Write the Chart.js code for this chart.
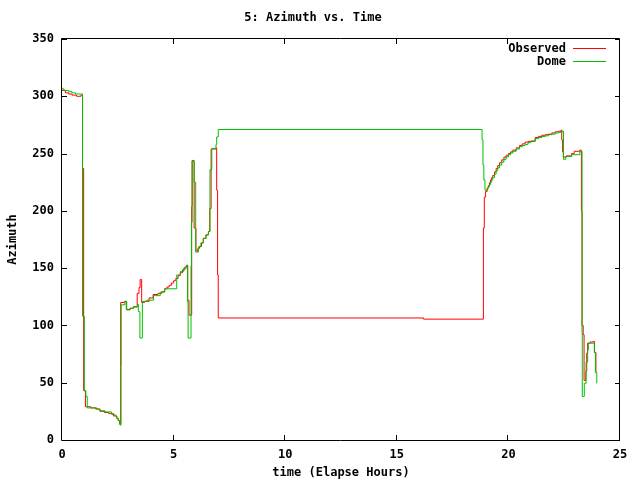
<!DOCTYPE html>
<html>
<head>
<meta charset="utf-8">
<script src="https://cdn.jsdelivr.net/npm/chart.js@4"></script>
<style>
  body { margin: 0; background: #fff; }
</style>
</head>
<body>
<canvas id="azChart" width="640" height="480"></canvas>
<script>
// values
const obsTime = [0.00, 0.08, 0.15, 0.30, 0.45, 0.65, 0.85, 0.92, 0.97, 1.05, 1.30, 1.55, 1.70, 1.90, 2.10, 2.30, 2.45, 2.52, 2.58,
  2.63, 2.80, 2.88, 3.05, 3.20, 3.37, 3.45, 3.50, 3.57, 3.70, 3.90, 4.08, 4.30, 4.47, 4.60, 4.70, 4.80, 4.90, 5.00, 5.10, 5.20, 5.30, 5.40, 5.50, 5.58,
  5.63, 5.69, 5.81, 5.83, 5.92, 6.00, 6.08, 6.15, 6.25, 6.33, 6.45, 6.56, 6.62, 6.68, 6.90, 6.93, 6.97, 7.00, 16.20,
  18.88, 18.92, 18.98, 19.05, 19.10, 19.15, 19.20, 19.25, 19.30, 19.38, 19.45, 19.52, 19.60, 19.70, 19.80, 19.90, 20.00, 20.10, 20.20, 20.35, 20.50,
  20.62, 20.75, 20.88, 21.00, 21.20, 21.35, 21.50, 21.65, 21.80, 21.95, 22.10, 22.25, 22.36,
  22.39, 22.43, 22.46, 22.60, 22.83, 22.95, 23.20, 23.27, 23.30, 23.35, 23.39, 23.47, 23.51, 23.55, 23.66, 23.80, 23.86, 23.92];
const obsAz = [305, 305, 303, 302, 301, 300, 301, 237, 43, 29, 28, 27, 25, 24, 23, 21, 19, 17, 14,
  120, 121, 114, 115, 116, 128, 133, 140, 120, 121, 124, 127, 128, 129.5, 132, 133.5, 135, 137, 139, 141, 143.5, 146, 148.5, 151, 152.5,
  122, 109, 204, 244, 185, 165, 167, 169, 172, 176, 179, 182, 202, 254, 255, 218, 144, 106.5, 105.5,
  185, 212, 217, 220, 222, 224.5, 227, 229, 231, 234, 237, 239.5, 242, 244.5, 247, 248.5, 250, 251.5, 253, 255, 257,
  258.5, 260, 260.5, 261, 264, 265, 266, 266.5, 267, 268, 269, 269.5, 270.5,
  262, 251.5, 247, 248, 250, 252, 253, 200, 100, 92, 52, 60, 76, 84.5, 85.5, 86, 76.5, 59];

const domeTime = [0.00, 0.05, 0.10, 0.30, 0.45, 0.60, 0.92, 1.00, 1.07, 1.13, 1.50, 1.70, 1.93, 2.22, 2.37, 2.45, 2.52, 2.58, 2.60,
  2.64, 2.65, 2.82, 2.90, 3.05, 3.20, 3.39, 3.42, 3.49, 3.60, 3.80, 4.10, 4.40, 4.60, 5.14, 5.30, 5.45, 5.59,
  5.63, 5.65, 5.78, 5.80, 5.83, 5.92, 5.99, 6.11, 6.22, 6.33, 6.45, 6.56, 6.63, 6.71, 6.90, 6.93, 7.00,
  18.82, 18.86, 18.90, 18.95, 19.05, 19.10, 19.15, 19.20, 19.25, 19.30, 19.38, 19.45, 19.52, 19.60, 19.70, 19.80, 19.90, 20.00, 20.10, 20.20, 20.35, 20.50,
  20.62, 20.75, 20.88, 21.00, 21.20, 21.35, 21.50, 21.65, 21.80, 21.95, 22.10, 22.25, 22.40,
  22.47, 22.57, 22.83, 23.20, 23.30, 23.31, 23.40, 23.48, 23.55, 23.58, 23.85, 23.90, 23.96];
const domeAz = [307, 306, 305, 304, 303, 302, 108, 43, 38, 28, 27, 25.5, 24.5, 22.5, 21, 19, 17, 14, 13,
  65, 118, 121, 113.5, 115, 116.5, 118.5, 112, 89, 121, 122, 126, 129, 132, 144, 147, 150, 152.5,
  120.5, 89, 152, 190, 243.5, 225, 164, 168.5, 172, 176, 179, 182, 236, 254.5, 258, 264.5, 271,
  262, 240, 227, 218, 219.5, 221, 223, 225, 227, 229, 232, 235, 237.5, 240, 242.5, 245, 247, 249, 250.5, 252, 254, 256,
  257, 258, 259.5, 260.5, 263, 264, 265, 265.5, 266.5, 267, 268, 268.5, 269.5,
  245, 247.5, 249, 252, 93, 38, 49.5, 68, 78.5, 84.5, 76.5, 59, 49.5];

const xTicks = [0, 5, 10, 15, 20, 25];
const yTicks = [0, 50, 100, 150, 200, 250, 300, 350];

const toPoints = (ts, vs) => ts.map((t, i) => ({ x: t, y: vs[i] }));

Chart.defaults.font.family = "'DejaVu Sans Mono', monospace";
Chart.defaults.font.size = 12;
Chart.defaults.font.weight = "bold";
Chart.defaults.color = "#000";

// gnuplot-like frame, inward ticks on all four sides and legend at top right
const gnuFrame = {
  id: "gnuFrame",
  afterDatasetsDraw(chart) {
    const { ctx, chartArea: a, scales } = chart;
    const xs = scales.x, ys = scales.y;
    const tl = 5;
    ctx.save();
    ctx.strokeStyle = "#000";
    ctx.lineWidth = 1;
    ctx.beginPath();
    ctx.rect(a.left - 0.5, a.top - 0.5, a.right - a.left, a.bottom - a.top + 1);
    xTicks.forEach(v => {
      const px = Math.round(xs.getPixelForValue(v)) - 0.5;
      ctx.moveTo(px, a.bottom); ctx.lineTo(px, a.bottom - tl);
      ctx.moveTo(px, a.top); ctx.lineTo(px, a.top + tl);
    });
    yTicks.forEach(v => {
      const py = Math.round(ys.getPixelForValue(v)) + 0.5;
      ctx.moveTo(a.left, py); ctx.lineTo(a.left + tl, py);
      ctx.moveTo(a.right, py); ctx.lineTo(a.right - tl, py);
    });
    ctx.stroke();

    ctx.font = "bold 12px 'DejaVu Sans Mono', monospace";
    ctx.textAlign = "right";
    ctx.textBaseline = "middle";
    chart.data.datasets.forEach((ds, i) => {
      const y = 49 + i * 13;
      ctx.fillStyle = "#000";
      ctx.fillText(ds.label, 566, y);
      ctx.strokeStyle = ds.borderColor;
      ctx.beginPath();
      ctx.moveTo(573, y - 0.5);
      ctx.lineTo(606, y - 0.5);
      ctx.stroke();
    });
    ctx.restore();
  }
};

new Chart(document.getElementById("azChart"), {
  type: "line",
  data: {
    datasets: [
      {
        label: "Observed",
        data: toPoints(obsTime, obsAz),
        borderColor: "#ff0000",
        borderWidth: 1,
        pointRadius: 0,
        stepped: true,
        order: 1
      },
      {
        label: "Dome",
        data: toPoints(domeTime, domeAz),
        borderColor: "#00c000",
        borderWidth: 1,
        pointRadius: 0,
        stepped: true,
        order: 0
      }
    ]
  },
  options: {
    responsive: false,
    animation: false,
    layout: { padding: { top: 0, left: 6, right: 20, bottom: 0 } },
    plugins: {
      legend: { display: false },
      tooltip: { enabled: false },
      title: {
        display: true,
        text: "5: Azimuth vs. Time",
        font: { size: 12, weight: "bold" },
        padding: { top: 11, bottom: 13.6 }
      }
    },
    scales: {
      x: {
        type: "linear",
        min: 0,
        max: 25,
        grid: { display: false, drawTicks: false },
        border: { display: false },
        ticks: { stepSize: 5, padding: 8, maxRotation: 0 },
        title: { display: true, text: "time (Elapse Hours)", padding: 0 },
        afterFit(scale) { scale.height = 40; }
      },
      y: {
        min: 0,
        max: 350,
        grid: { display: false, drawTicks: false },
        border: { display: false },
        ticks: { stepSize: 50, padding: 8 },
        title: { display: true, text: "Azimuth", padding: 0 },
        afterFit(scale) { scale.width = 56; }
      }
    }
  },
  plugins: [gnuFrame]
});
</script>
</body>
</html>
